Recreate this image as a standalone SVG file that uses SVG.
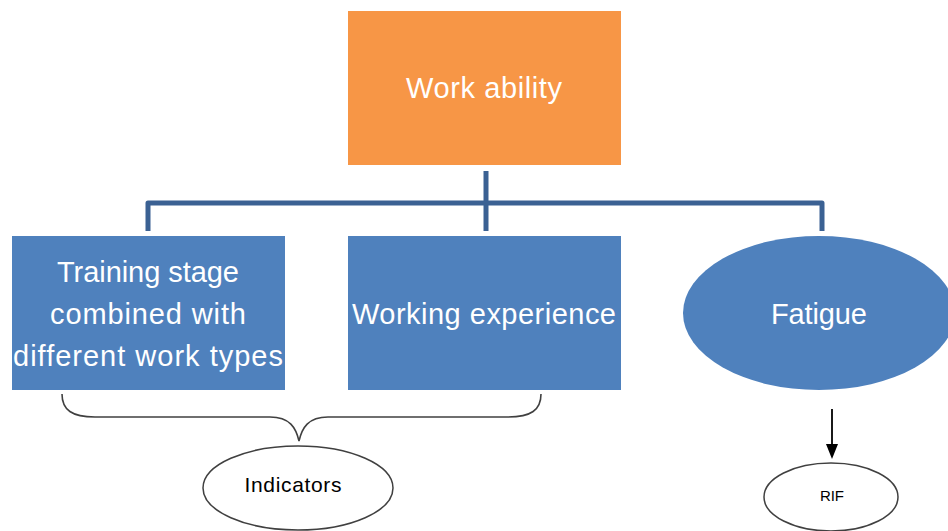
<svg xmlns="http://www.w3.org/2000/svg" width="948" height="531" viewBox="0 0 948 531">
<defs>
<style>
.box{fill:#4F81BD;}
.wt{fill:#FFFFFF;font-family:"Liberation Sans",Arial,sans-serif;font-size:29px;text-anchor:middle;}
.bt{fill:#000000;font-family:"Liberation Sans",Arial,sans-serif;text-anchor:middle;}
.conn{fill:none;stroke:#3B6193;stroke-width:5;stroke-linejoin:round;}
.out{fill:#FFFFFF;stroke:#404040;stroke-width:1.5;}
</style>
</defs>
<rect width="948" height="531" fill="#FFFFFF"/>
<g id="connectors">
<path class="conn" d="M486,171 V231"/>
<path class="conn" d="M148,231 V203 H822 V231"/>
<path d="M62,394 C62,410 72,417 95,417 H270 C290,417 296,428 299,441 C302,428 308,417 328,417 H508 C531,417 541,410 541,394" fill="none" stroke="#404040" stroke-width="1.6"/>
<line x1="832" y1="409" x2="832" y2="444" stroke="#000000" stroke-width="1.8"/>
<path d="M826,444 L838,444 L832,459 Z" fill="#000000"/>
</g>
<g id="work-ability">
<rect x="348" y="11" width="273" height="154" fill="#F79646"/>
<text class="wt" x="484" y="98" textLength="156">Work ability</text>
</g>
<g id="training-stage">
<rect class="box" x="12" y="236" width="273" height="154"/>
<text class="wt" x="148" y="282" textLength="182">Training stage</text>
<text class="wt" x="148" y="324" textLength="196">combined with</text>
<text class="wt" x="148" y="366" textLength="270">different work types</text>
</g>
<g id="working-experience">
<rect class="box" x="348" y="236" width="273" height="154"/>
<text class="wt" x="484" y="324" textLength="264">Working experience</text>
</g>
<g id="fatigue">
<ellipse class="box" cx="819" cy="313" rx="136" ry="77"/>
<text class="wt" x="819" y="324" textLength="96">Fatigue</text>
</g>
<g id="indicators">
<ellipse class="out" cx="298" cy="488" rx="95" ry="42"/>
<text class="bt" x="293" y="492" font-size="21" textLength="97">Indicators</text>
</g>
<g id="rif">
<ellipse class="out" cx="831" cy="497" rx="67" ry="34"/>
<text class="bt" x="832" y="501" font-size="15" textLength="24">RIF</text>
</g>
</svg>
